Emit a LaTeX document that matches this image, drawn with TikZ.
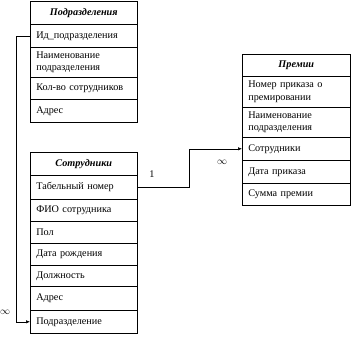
\documentclass[tikz,border=0pt]{standalone}
\usepackage{fontspec}
\setmainfont{Liberation Serif}
\usetikzlibrary{arrows.meta}
\tikzset{
  x=1pt, y=-1pt,
  cell/.style={draw, line width=0.6pt, rectangle, anchor=north west,
    minimum width=107pt, text width=95pt, inner xsep=6pt, inner ysep=1pt,
    align=left, font=\fontsize{10.2}{12.5}\selectfont},
  head/.style={cell, align=center, font=\fontsize{10.2}{12.5}\selectfont\bfseries\itshape},
  link/.style={draw, line width=0.6pt},
  tip/.style={-{Latex[length=4pt,width=3.5pt]}},
  lbl/.style={font=\fontsize{10.2}{12.5}\selectfont, inner sep=0pt}
}
\begin{document}
\begin{tikzpicture}
\useasboundingbox (0,0) rectangle (352,338);
% Подразделения
\node[head, minimum height=23pt] (p0) at (30,1) {Подразделения};
\node[cell, minimum height=23pt] (p1) at (30,24) {Ид\_подразделения};
\node[cell, minimum height=30pt] (p2) at (30,47) {Наименование\\подразделения};
\node[cell, minimum height=22pt] (p3) at (30,77) {Кол-во сотрудников};
\node[cell, minimum height=23pt] (p4) at (30,99) {Адрес};
% Премии
\node[head, minimum height=22pt, minimum width=108pt, text width=96pt] (q0) at (242,54) {Премии};
\node[cell, minimum height=31pt, minimum width=108pt, text width=96pt] (q1) at (242,76) {Номер приказа о\\премировании};
\node[cell, minimum height=30pt, minimum width=108pt, text width=96pt] (q2) at (242,107) {Наименование\\подразделения};
\node[cell, minimum height=23pt, minimum width=108pt, text width=96pt] (q3) at (242,137) {Сотрудники};
\node[cell, minimum height=23pt, minimum width=108pt, text width=96pt] (q4) at (242,160) {Дата приказа};
\node[cell, minimum height=22pt, minimum width=108pt, text width=96pt] (q5) at (242,183) {Сумма премии};
% Сотрудники
\node[head, minimum height=23pt] (s0) at (30,152) {Сотрудники};
\node[cell, minimum height=24pt] (s1) at (30,175) {Табельный номер};
\node[cell, minimum height=22pt] (s2) at (30,199) {ФИО сотрудника};
\node[cell, minimum height=22pt] (s3) at (30,221) {Пол};
\node[cell, minimum height=22pt] (s4) at (30,243) {Дата рождения};
\node[cell, minimum height=21pt] (s5) at (30,265) {Должность};
\node[cell, minimum height=24pt] (s6) at (30,286) {Адрес};
\node[cell, minimum height=23pt] (s7) at (30,310) {Подразделение};
% thicker separators
\draw[line width=1.1pt] (s3.south west) -- (s3.south east);
\draw[line width=1.1pt] (s5.south west) -- (s5.south east);
\draw[line width=1.1pt] (s6.south west) -- (s6.south east);
% connectors
\coordinate (c1) at (16,0);
\coordinate (c2) at (189,0);
\draw[link, tip] (p1.west) -- (p1.west -| c1) |- (s7.west);
\draw[link, tip] (s1.east) -- (s1.east -| c2) |- (q3.west);
% labels
\node[lbl] (l1) at (152,174) {1};
\node[lbl] (l2) at (222,162) {$\infty$};
\node[lbl] (l3) at (5,312) {$\infty$};
\end{tikzpicture}
\end{document}
